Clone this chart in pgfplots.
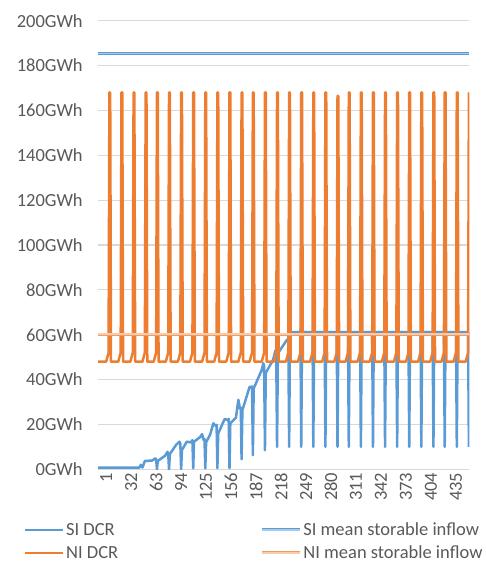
\documentclass[border=0pt]{standalone}
\usepackage{pgfplots}
\pgfplotsset{compat=1.18}
\usepackage{fontspec}
\setmainfont{Carlito}
\definecolor{siblue}{HTML}{5B9BD5}
\definecolor{silight}{HTML}{A9CBEA}
\definecolor{niorange}{HTML}{ED7D31}
\definecolor{niedge}{HTML}{F19A62}
\definecolor{nilight}{HTML}{F8CBAD}
\definecolor{gridgray}{HTML}{D9D9D9}
\definecolor{txtgray}{HTML}{595959}
\begin{document}
\begin{tikzpicture}
\begin{axis}[
  scale only axis, width=371.6pt, height=448.6pt,
  xmin=0.5, xmax=461.5, ymin=0, ymax=200,
  axis line style={draw=none}, tick style={draw=none},
  ytick={0,20,40,60,80,100,120,140,160,180,200},
  yticklabels={0GWh,20GWh,40GWh,60GWh,80GWh,100GWh,120GWh,140GWh,160GWh,180GWh,200GWh},
  xtick={1,32,63,94,125,156,187,218,249,280,311,342,373,404,435},
  xticklabels={1,32,63,94,125,156,187,218,249,280,311,342,373,404,435},
  ymajorgrids, major grid style={draw=gridgray, line width=1.2pt},
  ticklabel style={font=\fontsize{18.5}{22}\selectfont, text=txtgray},
  yticklabel style={xshift=-11.5pt},
  xticklabel style={rotate=90, anchor=east, yshift=-8pt},
  legend columns=2,
  legend cell align=left,
  legend image code/.code={\draw[#1, line cap=butt] (0pt,0pt) -- (38pt,0pt);},
  legend style={draw=none, fill=none, inner sep=0pt,
    at={(axis description cs:-0.2,-0.1144)}, anchor=north west,
    font=\fontsize{18.5}{22}\selectfont, text=txtgray,
    nodes={inner sep=2pt},
    /tikz/every even column/.append style={column sep=140pt},
    row sep=4.5pt},
  line join=round,
]
\addplot[siblue, line width=2.5pt, mark=none] coordinates {
(1,0.7)(52,0.7)(54,2)(56,0.8)(59,3.7)(68,3.9)(72,4.9)(73,4.5)(74,0)
(75,3.7)(80,5)(84,6)(87,7.8)(88,7)(89,0)
(90,6.8)(98,11)(102,12.3)(103,11.5)(104,0)
(105,8.6)(111,12.3)(116,12)(118,13)(119,0.4)
(120,12.3)(128,14.5)(130,15.7)(132,13)(133,13.5)(134,0.4)
(135,12)(140,15.5)(144,20.5)(146,19.5)(148,19.8)(149,0.5)
(150,16)(158,22.4)(162,22)(163,22.5)(164,0.5)
(165,20.5)(172,23)(175,31)(177,27)(178,27.5)(179,4.5)
(180,26.4)(189,36.8)(191,36.3)(192,37)(193,6.3)
(194,36)(204,44.3)(206,47.3)(207,46)(208,8.5)
(209,43)(218,48.7)(221,53)(222,52)(223,10)
(224,51.7)(235,57.6)(237,58)(238,10)
(239,59.5)(241,60.5)(243,61.2)(252,61.2)(253,10)
(254,61.2)(267,61.2)(268,10)(269,61.2)(282,61.2)(283,10)
(284,61.2)(297,61.2)(298,10)(299,61.2)(311,61.2)(312,10)
(313,61.2)(326,61.2)(327,10)(328,61.2)(341,61.2)(342,10)
(343,61.2)(356,61.2)(357,10)(358,61.2)(371,61.2)(372,10)
(373,61.2)(386,61.2)(387,10)(388,61.2)(401,61.2)(402,10)
(403,61.2)(416,61.2)(417,10)(418,61.2)(430,61.2)(431,10)
(432,61.2)(445,61.2)(446,10)(447,61.2)(460,61.2)(461,10)
};
\addlegendentry{SI DCR}
\addplot[draw=siblue, line width=0.8pt, double=silight, double distance=1.4pt, mark=none] coordinates {(1,185.5)(461,185.5)};
\addlegendentry{SI mean storable inflow}
\addplot[niorange, line width=2.5pt, mark=none] coordinates {
(1,48)
(11,48)(14,52)(15,168)(16,168)(17,48)
(26,48)(29,52)(30,168)(31,168)(32,48)
(41,48)(44,52)(45,168)(46,168)(47,48)
(56,48)(59,52)(60,168)(61,168)(62,48)
(70,48)(73,52)(74,168)(75,168)(76,48)
(85,48)(88,52)(89,168)(90,168)(91,48)
(100,48)(103,52)(104,168)(105,168)(106,48)
(115,48)(118,52)(119,168)(120,168)(121,48)
(130,48)(133,52)(134,168)(135,168)(136,48)
(145,48)(148,52)(149,168)(150,168)(151,48)
(160,48)(163,52)(164,168)(165,168)(166,48)
(175,48)(178,52)(179,168)(180,168)(181,48)
(189,48)(192,52)(193,168)(194,168)(195,48)
(204,48)(207,52)(208,168)(209,168)(210,48)
(219,48)(222,52)(223,168)(224,168)(225,48)
(234,48)(237,52)(238,168)(239,168)(240,48)
(249,48)(252,52)(253,168)(254,168)(255,48)
(264,48)(267,52)(268,168)(269,168)(270,48)
(279,48)(282,52)(283,168)(284,168)(285,48)
(294,48)(297,52)(298,166.5)(299,166.5)(300,48)
(308,48)(311,52)(312,168)(313,168)(314,48)
(323,48)(326,52)(327,168)(328,168)(329,48)
(338,48)(341,52)(342,168)(343,168)(344,48)
(353,48)(356,52)(357,168)(358,168)(359,48)
(368,48)(371,52)(372,168)(373,168)(374,48)
(383,48)(386,52)(387,168)(388,168)(389,48)
(398,48)(401,52)(402,168)(403,168)(404,48)
(413,48)(416,52)(417,168)(418,168)(419,48)
(427,48)(430,52)(431,168)(432,168)(433,48)
(442,48)(445,52)(446,168)(447,168)(448,48)
(457,48)(460,52)(461,168)
};
\addlegendentry{NI DCR}
\addplot[draw=niedge, line width=0.8pt, double=nilight, double distance=1.6pt, mark=none] coordinates {(1,60.2)(461,60.2)};
\addlegendentry{NI mean storable inflow}
\end{axis}
\pgfresetboundingbox
\path (-97.7pt,-93.7pt) rectangle (389.3pt,469.3pt);
\end{tikzpicture}
\end{document}
